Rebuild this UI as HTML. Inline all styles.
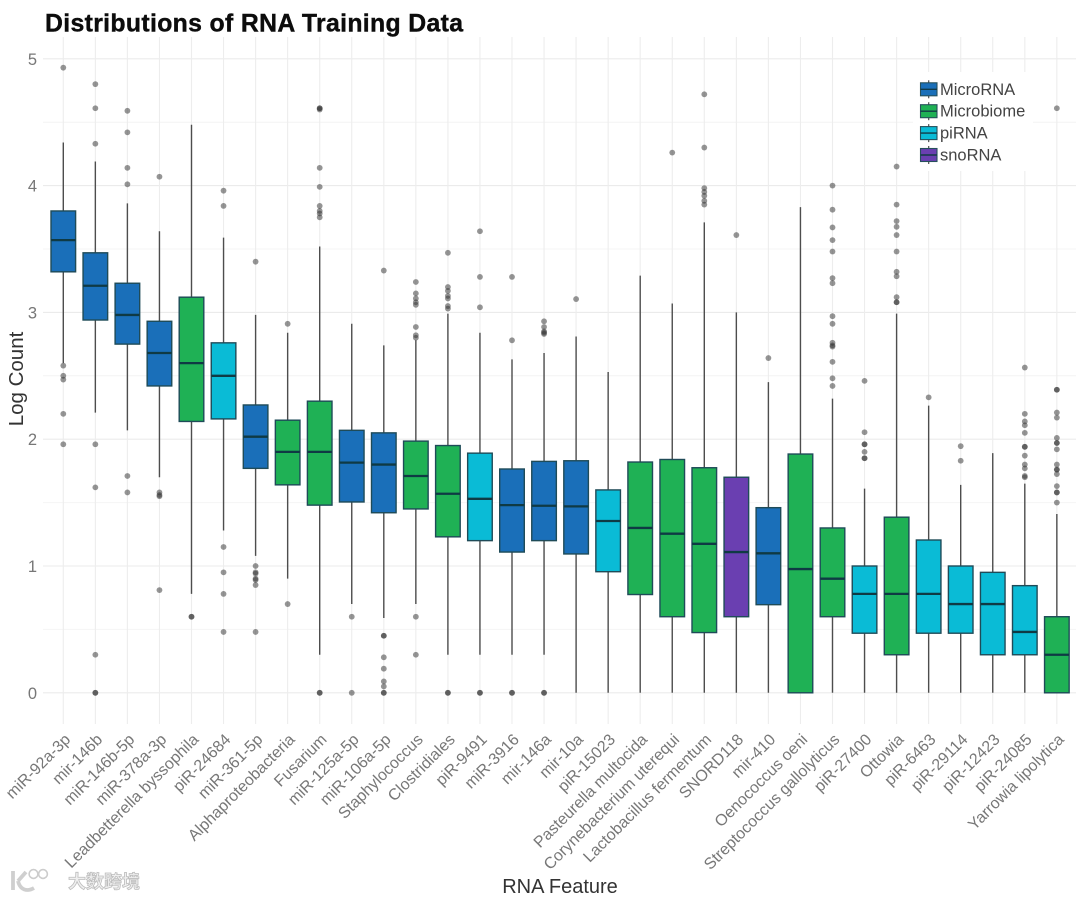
<!DOCTYPE html>
<html lang="en">
<head>
<meta charset="utf-8">
<title>Distributions of RNA Training Data</title>
<style>
html,body{margin:0;padding:0;background:#fff;width:1080px;height:900px;overflow:hidden}
svg{display:block}
text{font-family:"Liberation Sans","Noto Sans CJK SC",sans-serif}
</style>
</head>
<body>
<svg id="chart" width="1080" height="900" viewBox="0 0 1080 900" xmlns="http://www.w3.org/2000/svg">
  <rect x="0" y="0" width="1080" height="900" fill="#ffffff"/>
  <g id="grid"></g>
  <g id="y-ticks"></g>
  <g id="marks"></g>
  <g id="x-ticks"></g>
  <g id="legend"></g>
  <text x="45" y="31.5" font-size="24.8" font-weight="700" fill="#0c0c0c" stroke="#0c0c0c" stroke-width="0.4" textLength="418" lengthAdjust="spacing">Distributions of RNA Training Data</text>
  <text transform="translate(23,379) rotate(-90)" text-anchor="middle" font-size="20.5" fill="#333333">Log Count</text>
  <text x="560" y="893" text-anchor="middle" font-size="20" fill="#333333">RNA Feature</text>
  <g>
    <path d="M13 871v19M18 881l8-9M18 881c2 9 9 11 16 7" fill="none" stroke="#cfcfcf" stroke-width="3.8"/>
    <circle cx="33.5" cy="874" r="4.4" fill="none" stroke="#cccccc" stroke-width="1.6"/>
    <circle cx="43" cy="874" r="4.4" fill="none" stroke="#cccccc" stroke-width="1.6"/>
    <text x="68" y="888" font-size="18" font-weight="700" fill="#efefef" stroke="#bdbdbd" stroke-width="0.8" textLength="72" lengthAdjust="spacing">大数跨境</text>
  </g>
</svg>
<script>
const categories = ["miR-92a-3p","mir-146b","miR-146b-5p","miR-378a-3p","Leadbetterella byssophila","piR-24684","miR-361-5p","Alphaproteobacteria","Fusarium","miR-125a-5p","miR-106a-5p","Staphylococcus","Clostridiales","piR-9491","miR-3916","mir-146a","mir-10a","piR-15023","Pasteurella multocida","Corynebacterium uterequi","Lactobacillus fermentum","SNORD118","mir-410","Oenococcus oeni","Streptococcus gallolyticus","piR-27400","Ottowia","piR-6463","piR-29114","piR-12423","piR-24085","Yarrowia lipolytica"];
const groups = ["MicroRNA","MicroRNA","MicroRNA","MicroRNA","Microbiome","piRNA","MicroRNA","Microbiome","Microbiome","MicroRNA","MicroRNA","Microbiome","Microbiome","piRNA","MicroRNA","MicroRNA","MicroRNA","piRNA","Microbiome","Microbiome","Microbiome","snoRNA","MicroRNA","Microbiome","Microbiome","piRNA","Microbiome","piRNA","piRNA","piRNA","piRNA","Microbiome"];
const q3Values = [3.80,3.47,3.23,2.93,3.12,2.76,2.27,2.15,2.30,2.07,2.05,1.985,1.95,1.89,1.765,1.825,1.83,1.60,1.82,1.84,1.775,1.70,1.46,1.883,1.30,1.00,1.385,1.205,1.00,0.95,0.845,0.60];
const medianValues = [3.57,3.21,2.98,2.68,2.60,2.50,2.02,1.90,1.90,1.815,1.80,1.71,1.57,1.53,1.48,1.475,1.47,1.355,1.30,1.255,1.175,1.11,1.10,0.976,0.90,0.78,0.78,0.78,0.70,0.70,0.48,0.30];
const q1Values = [3.32,2.94,2.75,2.42,2.14,2.16,1.77,1.64,1.48,1.505,1.42,1.45,1.23,1.20,1.11,1.20,1.095,0.955,0.775,0.60,0.475,0.60,0.695,0,0.60,0.47,0.30,0.47,0.47,0.30,0.30,0];
const whiskerHigh = [4.34,4.19,3.86,3.64,4.48,3.59,2.98,2.84,3.52,2.91,2.74,2.78,2.99,2.84,2.63,2.68,2.81,2.53,3.29,3.07,3.71,3.00,2.45,3.83,2.32,1.61,2.99,2.265,1.64,1.89,1.65,1.41];
const whiskerLow = [2.60,2.21,2.07,1.70,0.78,1.28,1.08,0.90,0.30,0.70,0.59,0.70,0.30,0.30,0.30,0.30,0,0,0,0,0,0,0,0,0,0,0,0,0,0,0,0];
const outliers = [
  [4.93,2.58,2.50,2.47,2.20,1.96],
  [4.80,4.61,4.33,1.96,1.62,0.30,0,0],
  [4.59,4.42,4.14,4.01,1.71,1.58],
  [4.07,1.58,1.56,1.55,0.81],
  [0.60,0.60],
  [3.96,3.84,1.15,0.95,0.78,0.48],
  [3.40,1.00,0.95,0.94,0.90,0.89,0.85,0.48],
  [2.91,0.70],
  [4.61,4.61,4.60,4.14,3.99,3.84,3.80,3.78,3.75,0,0],
  [0.60,0],
  [3.33,0.45,0.45,0.28,0.19,0.09,0.05,0,0],
  [3.24,3.15,3.11,3.08,3.06,2.885,2.82,2.80,0.60,0.30],
  [3.47,3.20,3.17,3.13,3.11,3.05,3.03,0,0],
  [3.64,3.28,3.04,0,0],
  [3.28,2.78,0,0],
  [2.93,2.885,2.85,2.84,2.83,0,0],
  [3.105],
  [],
  [],
  [4.26],
  [4.72,4.30,3.98,3.95,3.92,3.88,3.85],
  [3.61],
  [2.64],
  [],
  [4.00,3.81,3.67,3.57,3.48,3.27,3.23,2.97,2.91,2.76,2.74,2.73,2.61,2.48,2.42],
  [2.46,2.055,1.96,1.96,1.90,1.85,1.85],
  [4.15,3.85,3.72,3.675,3.61,3.48,3.32,3.285,3.12,3.08,3.08],
  [2.33],
  [1.945,1.83],
  [],
  [2.565,2.20,2.14,2.11,2.05,1.94,1.94,1.87,1.80,1.77,1.71,1.70],
  [4.61,2.39,2.39,2.21,2.17,2.01,1.97,1.97,1.92,1.80,1.76,1.76,1.725,1.63,1.58,1.58,1.50]
];
const yTickLabels = [0,1,2,3,4,5];
const yMinorTicks = [0.5,1.5,2.5,3.5,4.5];
const legendLabels = ["MicroRNA","Microbiome","piRNA","snoRNA"];
const legendColors = ["#1a6fb9","#1fb155","#0abbd6","#6a3fb1"];

const NS = "http://www.w3.org/2000/svg";
function xScale(i) { return 63.3 + 32.05 * i; }
function yScale(v) { return 692.8 - 126.8 * v; }
function colorOf(group) { return legendColors[legendLabels.indexOf(group)]; }
function make(tag, parent, attrs) {
  const el = document.createElementNS(NS, tag);
  for (const k in attrs) el.setAttribute(k, attrs[k]);
  parent.appendChild(el);
  return el;
}

const gridG = document.getElementById("grid");
yMinorTicks.forEach(function (v) {
  const l = make("line", gridG, {x1: 43, x2: 1076, y1: yScale(v), y2: yScale(v), stroke: "#f4f4f4", "stroke-width": 1});
  
  
});
yTickLabels.forEach(function (v) {
  const l = make("line", gridG, {x1: 43, x2: 1076, y1: yScale(v), y2: yScale(v), stroke: "#ebebeb", "stroke-width": 1.1});
  
  
});
categories.forEach(function (c, i) {
  const l = make("line", gridG, {x1: xScale(i), x2: xScale(i), y1: 37, y2: 724, stroke: "#ededed", "stroke-width": 1.1});
  
  
});

const yTickG = document.getElementById("y-ticks");
yTickLabels.forEach(function (v) {
  const t = make("text", yTickG, {x: 37, y: yScale(v) + 6, "text-anchor": "end", "font-size": 16.5, fill: "#777777"});
  
  
  t.textContent = String(v);
});

const marksG = document.getElementById("marks");
const boxWidth = 24.6;
categories.forEach(function (c, i) {
  const x = xScale(i);
  const whisker = make("line", marksG, {x1: x, x2: x, y1: yScale(whiskerHigh[i]), y2: yScale(whiskerLow[i]), stroke: "#4d4d4d", "stroke-width": 1.4});
  
  
  const top = yScale(q3Values[i]);
  const bottom = yScale(q1Values[i]);
  const box = make("rect", marksG, {x: x - boxWidth / 2, y: top, width: boxWidth, height: bottom - top, fill: colorOf(groups[i]), stroke: "#1f4b58", "stroke-width": 1.4});
  
  
  const med = make("line", marksG, {x1: x - boxWidth / 2, x2: x + boxWidth / 2, y1: yScale(medianValues[i]), y2: yScale(medianValues[i]), stroke: "#0f3a44", "stroke-width": 2.3});
  
  
  outliers[i].forEach(function (v) {
    const p = make("circle", marksG, {cx: x, cy: yScale(v), r: 2.9, fill: "#333333", "fill-opacity": 0.52});
    
    
  });
});

const xTickG = document.getElementById("x-ticks");
categories.forEach(function (c, i) {
  const t = make("text", xTickG, {transform: "translate(" + (xScale(i) + 8) + ",740.5) rotate(-45)", "text-anchor": "end", "font-size": 16, fill: "#777777"});
  
  
  t.textContent = c;
});

const legendG = document.getElementById("legend");
const legendBg = make("rect", legendG, {x: 913, y: 72, width: 120, height: 99, fill: "#ffffff"});


legendLabels.forEach(function (label, i) {
  const cy = 89.3 + 21.9 * i;
  const stem = make("line", legendG, {x1: 928.7, x2: 928.7, y1: cy - 9, y2: cy + 9, stroke: "#4d4d4d", "stroke-width": 1.2});
  
  
  const key = make("rect", legendG, {x: 920.5, y: cy - 6.5, width: 16.5, height: 13, fill: legendColors[i], stroke: "#26505c", "stroke-width": 1.1});
  
  
  const mid = make("line", legendG, {x1: 920.5, x2: 937, y1: cy, y2: cy, stroke: "#123a46", "stroke-width": 1.4});
  
  
  const t = make("text", legendG, {x: 940, y: cy + 5.5, "font-size": 16.5, fill: "#444444"});
  
  
  t.textContent = label;
});
</script>
</body>
</html>
